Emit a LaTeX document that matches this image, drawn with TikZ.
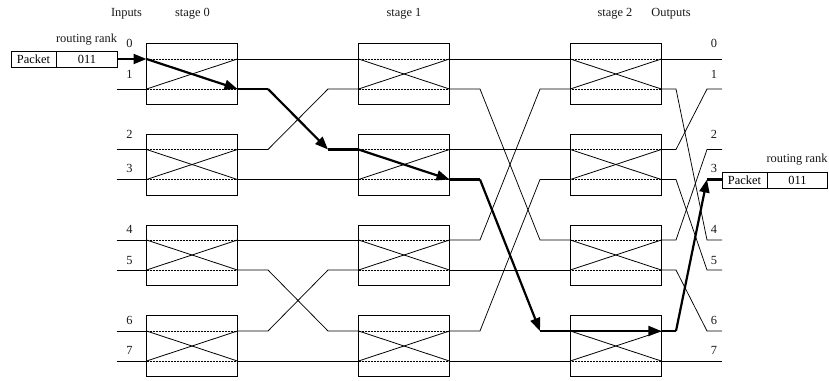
\documentclass[tikz,border=0pt]{standalone}
\usepackage{fontspec}
\setmainfont{Liberation Serif}
\usetikzlibrary{arrows.meta}
\tikzset{
  x=1pt,y=-1pt,
  lab/.style={inner sep=0pt,font=\fontsize{12.4}{14}\selectfont,text=black!90},
  switchbox/.style={draw,line width=0.8pt,minimum width=91pt,minimum height=60.5pt,inner sep=0pt,anchor=center},
  packetbox/.style={draw,line width=0.8pt,minimum height=16pt,inner sep=0pt,font=\fontsize{12.4}{14}\selectfont},
  wire/.style={line width=0.75pt,line join=miter},
  straightthru/.style={line width=0.9pt,dash pattern=on 1pt off 0.5pt},
  crossw/.style={line width=0.8pt},
  heavy/.style={line width=2.2pt,line join=miter},
  heavyarrow/.style={heavy,-{Triangle[length=13pt,width=10pt]}}
}
\begin{document}
\begin{tikzpicture}
\useasboundingbox (0,0) rectangle (829,380);
% row y positions
\def\ya{59}\def\yb{89}\def\yc{149.5}\def\yd{179.5}\def\ye{240}\def\yf{270}\def\yg{331}\def\yh{361}
% switch boxes
\foreach \s/\cx in {0/192,1/404,2/615.8}{
  \foreach \b/\t/\u/\cy in {0/\ya/\yb/74,1/\yc/\yd/164.7,2/\ye/\yf/255.2,3/\yg/\yh/345.7}{
    \node[switchbox] (sw\s\b) at (\cx,\cy) {};
    \coordinate (L\s\b a) at (\cx-45.5,\t);
    \coordinate (L\s\b b) at (\cx-45.5,\u);
    \coordinate (R\s\b a) at (\cx+45.5,\t);
    \coordinate (R\s\b b) at (\cx+45.5,\u);
    \draw[straightthru] (L\s\b a) -- (R\s\b a);
    \draw[straightthru] (L\s\b b) -- (R\s\b b);
    \draw[crossw] (L\s\b a) -- (R\s\b b);
    \draw[crossw] (L\s\b b) -- (R\s\b a);
  }
}
% free ends of the wires
\foreach \n/\y in {0/\ya,1/\yb,2/\yc,3/\yd,4/\ye,5/\yf,6/\yg,7/\yh}{
  \coordinate (in\n) at (116.5,\y);
  \coordinate (out\n) at (722,\y);
  \coordinate (outb\n) at (707,\y);
  \coordinate (sa\n) at (268,\y);
  \coordinate (sb\n) at (328,\y);
  \coordinate (sc\n) at (480,\y);
  \coordinate (sd\n) at (540,\y);
  \coordinate (se\n) at (676,\y);
}
% inputs
\draw[wire] (in1) -- (L00b);
\draw[wire] (in2) -- (L01a);
\draw[wire] (in3) -- (L01b);
\draw[wire] (in4) -- (L02a);
\draw[wire] (in5) -- (L02b);
\draw[wire] (in6) -- (L03a);
\draw[wire] (in7) -- (L03b);
% stage 0 to stage 1
\draw[wire] (R00a) -- (L10a);
\draw[wire] (R01a) -- (sa2) -- (sb1) -- (L10b);
\draw[wire] (R01b) -- (L11b);
\draw[wire] (R02a) -- (L12a);
\draw[wire] (R02b) -- (sa5) -- (sb6) -- (L13a);
\draw[wire] (R03a) -- (sa6) -- (sb5) -- (L12b);
\draw[wire] (R03b) -- (L13b);
% stage 1 to stage 2
\draw[wire] (R10a) -- (L20a);
\draw[wire] (R10b) -- (sc1) -- (sd4) -- (L22a);
\draw[wire] (R11a) -- (L21a);
\draw[wire] (R12a) -- (sc4) -- (sd1) -- (L20b);
\draw[wire] (R12b) -- (L22b);
\draw[wire] (R13a) -- (sc6) -- (sd3) -- (L21b);
\draw[wire] (R13b) -- (L23b);
% outputs
\draw[wire] (R20a) -- (out0);
\draw[wire] (R20b) -- (se1) -- (outb4) -- (out4);
\draw[wire] (R21a) -- (se2) -- (outb1) -- (out1);
\draw[wire] (R21b) -- (se3) -- (outb5) -- (out5);
\draw[wire] (R22a) -- (se4) -- (outb2) -- (out2);
\draw[wire] (R22b) -- (se5) -- (outb6) -- (out6);
\draw[wire] (R23b) -- (out7);
% routed path
\draw[heavyarrow] (in0) -- (L00a);
\draw[heavyarrow] (L00a) -- (R00b);
\draw[heavy] (R00b) -- (sa1);
\draw[heavyarrow] (sa1) -- (sb2);
\draw[heavy] (sb2) -- (L11a);
\draw[heavyarrow] (L11a) -- (R11b);
\draw[heavy] (R11b) -- (sc3);
\draw[heavyarrow] (sc3) -- (sd6);
\draw[heavy] (sd6) -- (L23a);
\draw[heavyarrow] (L23a) -- (R23a);
\draw[heavy] (R23a) -- (se6);
\draw[heavyarrow] (se6) -- (outb3);
\draw[heavy] (outb3) -- (out3);
% packets
\node[packetbox,minimum width=45pt] (pl) at (33.5,59) {Packet};
\node[packetbox,minimum width=60.5pt,anchor=west] (plr) at (pl.east) {011};
\node[packetbox,minimum width=45pt] (pr) at (744.5,180) {Packet};
\node[packetbox,minimum width=59.5pt,anchor=west] (prr) at (pr.east) {011};
% labels
\node[lab] (tin) at (126.5,14) {Inputs};
\node[lab] (ts0) at (192.5,14) {stage 0};
\node[lab] (ts1) at (404,14) {stage 1};
\node[lab] (ts2) at (615,14) {stage 2};
\node[lab] (tout) at (671,14) {Outputs};
\node[lab] (rl) at (86.5,40) {routing rank};
\node[lab] (rr) at (797,160) {routing rank};
\foreach \n/\y in {0/43.5,1/74,2/134.5,3/168.5,4/229.5,5/260,6/320,7/350}{
  \node[lab] (il\n) at (129.5,\y) {\n};
  \node[lab] (ol\n) at (714,\y) {\n};
}
\end{tikzpicture}
\end{document}
